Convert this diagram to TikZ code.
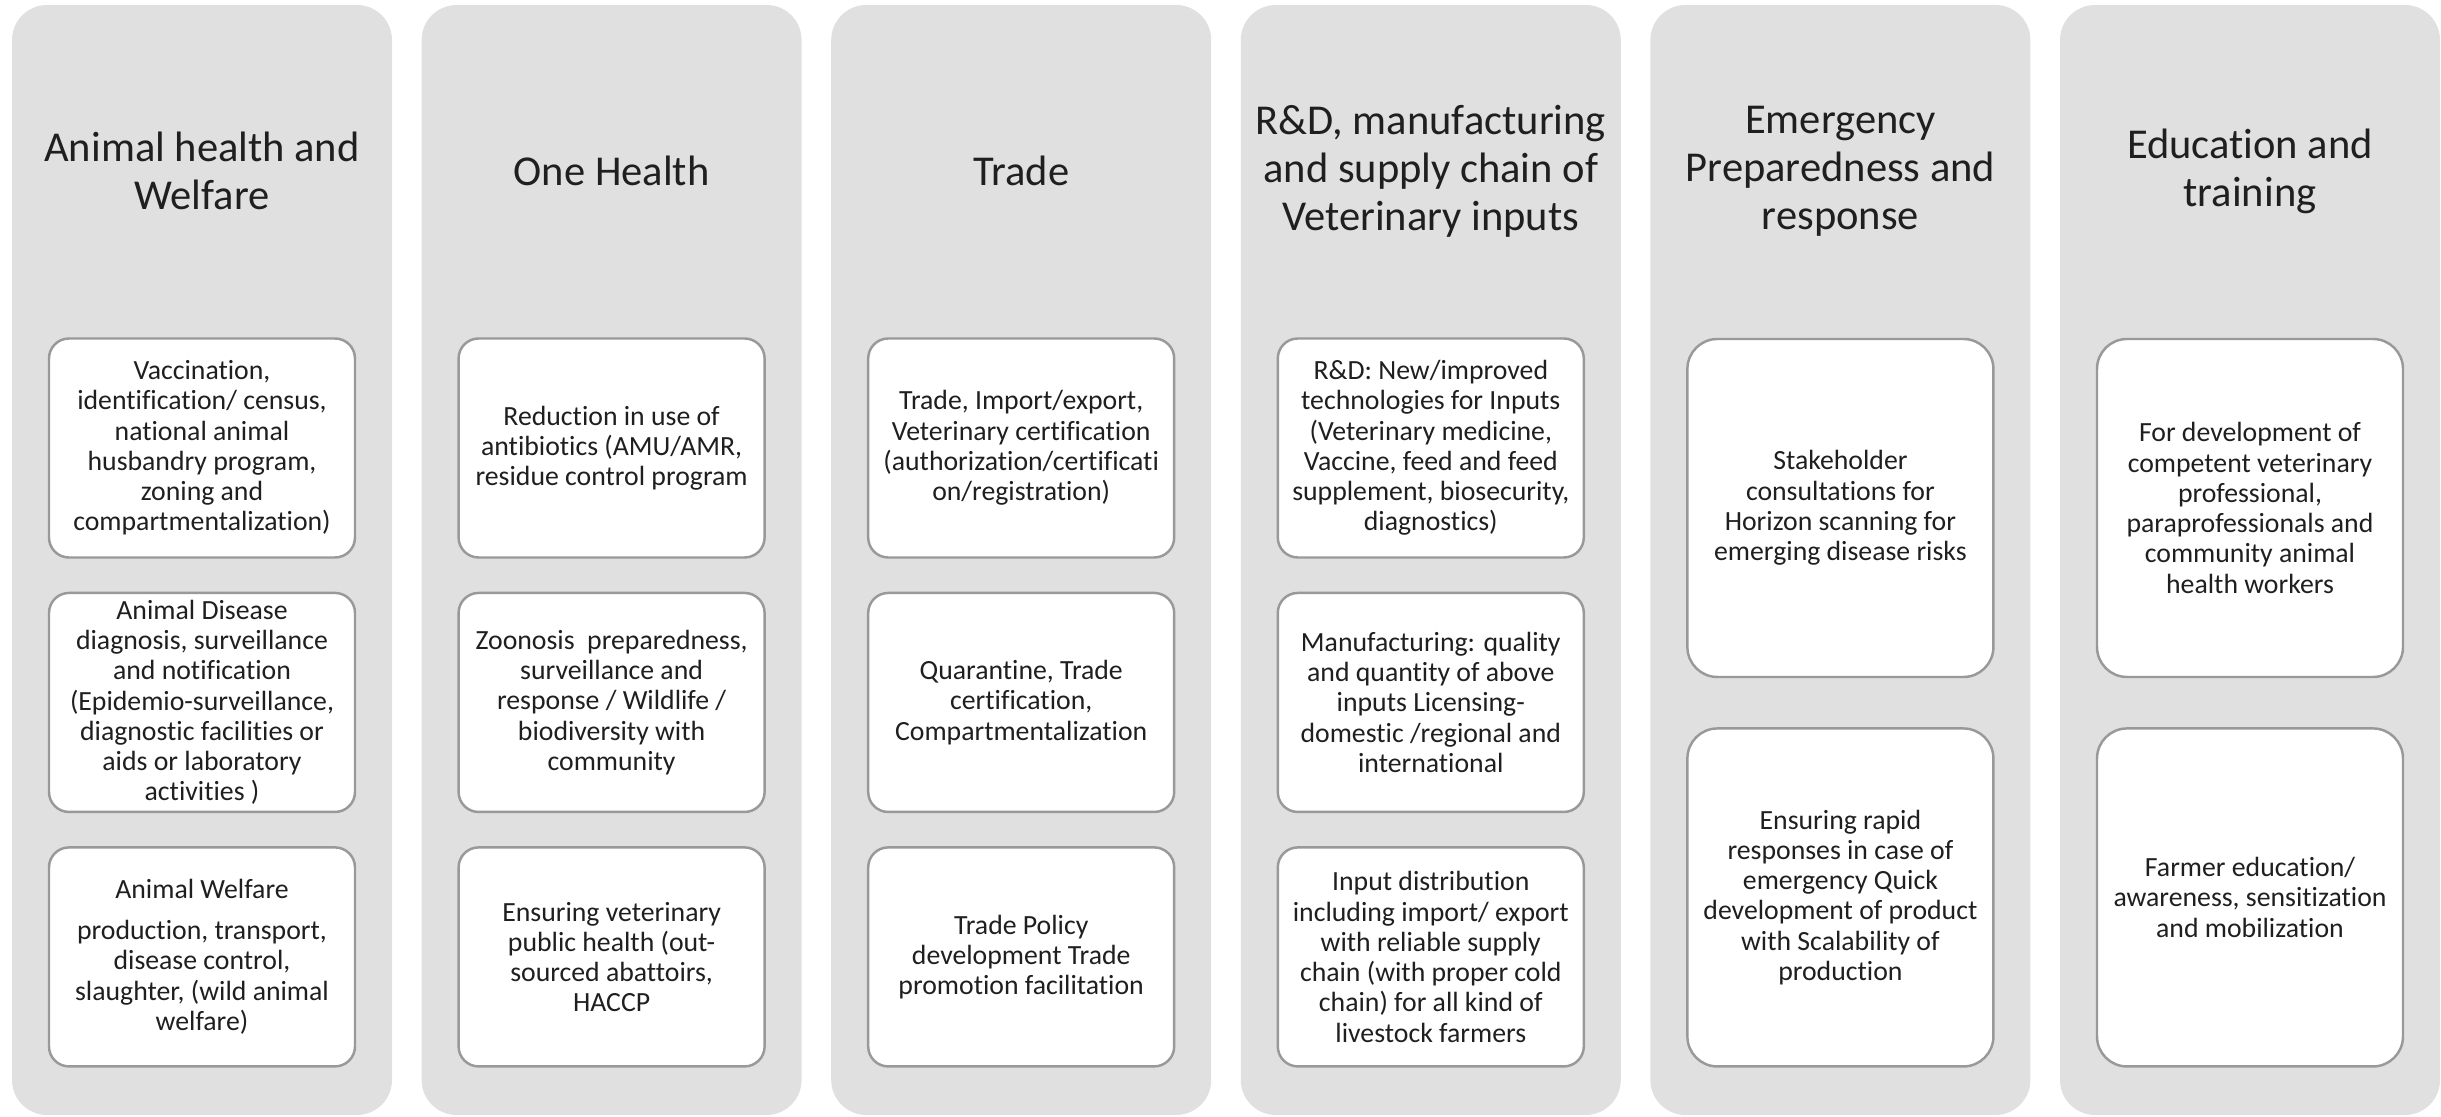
\documentclass[tikz,border=0pt]{standalone}
\usepackage{fontspec}
\setmainfont{Carlito}[Ligatures=NoCommon]
\usetikzlibrary{positioning}
\definecolor{panelgray}{HTML}{E0E0E0}
\definecolor{boxline}{HTML}{999999}
\definecolor{inktext}{HTML}{1F1F1F}

\begin{document}
\begin{tikzpicture}[
  panel/.style={fill=panelgray, rounded corners=3.5mm, minimum width=3.8cm, minimum height=11.1cm, inner sep=0pt},
  heading/.style={font=\fontsize{12.1}{13.7}\selectfont, text=inktext, align=center},
  item/.style={draw=boxline, line width=0.7pt, fill=white, rounded corners=2mm, minimum width=3.06cm, minimum height=2.19cm, align=center, inner sep=0pt, font=\fontsize{7.9}{8.6}\selectfont, text=inktext},
  tallitem/.style={item, rounded corners=3mm, minimum height=3.38cm}
]
  \useasboundingbox (0,0) rectangle (24.41,11.17);

  % grey columns
  \node[panel] (panelAH) at (2.02,5.57) {};
  \node[panel] (panelOH) at (6.116,5.57) {};
  \node[panel] (panelTR) at (10.212,5.57) {};
  \node[panel] (panelRD) at (14.308,5.57) {};
  \node[panel] (panelEP) at (18.404,5.57) {};
  \node[panel] (panelED) at (22.50,5.57) {};

  % column headings
  \node[heading] (headAH) at (2.02,9.46) {Animal health and\\Welfare};
  \node[heading] (headOH) at (6.116,9.46) {One Health};
  \node[heading] (headTR) at (10.212,9.46) {Trade};
  \node[heading] (headRD) at (14.308,9.46) {R\&D, manufacturing\\and supply chain of\\Veterinary inputs};
  \node[heading] (headEP) at (18.404,9.46) {Emergency\\Preparedness and\\response};
  \node[heading] (headED) at (22.50,9.46) {Education and\\training};

  % Animal health and Welfare
  \node[item] (vacc) at (2.02,6.69) {
    Vaccination,\\
    identification/ census,\\
    national animal\\
    husbandry program,\\
    zoning and\\
    compartmentalization)
  };
  \node[item, below=0.33cm of vacc] (diag) {
    Animal Disease\\
    diagnosis, surveillance\\
    and notification\\
    (Epidemio-surveillance,\\
    diagnostic facilities or\\
    aids or laboratory\\
    activities )
  };
  \node[item, below=0.33cm of diag] (welf) {
    Animal Welfare\\[3pt]
    production, transport,\\
    disease control,\\
    slaughter, (wild animal\\
    welfare)
  };

  % One Health
  \node[item] (amr) at (6.116,6.69) {
    Reduction in use of\\
    antibiotics (AMU/AMR,\\
    residue control program
  };
  \node[item, below=0.33cm of amr] (zoon) {
    Zoonosis\ \ preparedness,\\
    surveillance and\\
    response / Wildlife /\\
    biodiversity with\\
    community
  };
  \node[item, below=0.33cm of zoon] (vph) {
    Ensuring veterinary\\
    public health (out-\\
    sourced abattoirs,\\
    HACCP
  };

  % Trade
  \node[item] (cert) at (10.212,6.69) {
    Trade, Import/export,\\
    Veterinary certification\\
    (authorization/certificati\\
    on/registration)
  };
  \node[item, below=0.33cm of cert] (quar) {
    Quarantine, Trade\\
    certification,\\
    Compartmentalization
  };
  \node[item, below=0.33cm of quar] (policy) {
    Trade Policy\\
    development Trade\\
    promotion facilitation
  };

  % R&D, manufacturing and supply chain
  \node[item] (rnd) at (14.308,6.69) {
    R\&D: New/improved\\
    technologies for Inputs\\
    (Veterinary medicine,\\
    Vaccine, feed and feed\\
    supplement, biosecurity,\\
    diagnostics)
  };
  \node[item, below=0.33cm of rnd] (manu) {
    Manufacturing: quality\\
    and quantity of above\\
    inputs Licensing-\\
    domestic /regional and\\
    international
  };
  \node[item, below=0.33cm of manu] (distr) {
    Input distribution\\
    including import/ export\\
    with reliable supply\\
    chain (with proper cold\\
    chain) for all kind of\\
    livestock farmers
  };

  % Emergency Preparedness and response
  \node[tallitem] (horizon) at (18.404,6.09) {
    Stakeholder\\
    consultations for\\
    Horizon scanning for\\
    emerging disease risks
  };
  \node[tallitem, below=0.49cm of horizon] (rapid) {
    Ensuring rapid\\
    responses in case of\\
    emergency Quick\\
    development of product\\
    with Scalability of\\
    production
  };

  % Education and training
  \node[tallitem] (prof) at (22.50,6.09) {
    For development of\\
    competent veterinary\\
    professional,\\
    paraprofessionals and\\
    community animal\\
    health workers
  };
  \node[tallitem, below=0.49cm of prof] (farmer) {
    Farmer education/\\
    awareness, sensitization\\
    and mobilization
  };
\end{tikzpicture}
\end{document}
